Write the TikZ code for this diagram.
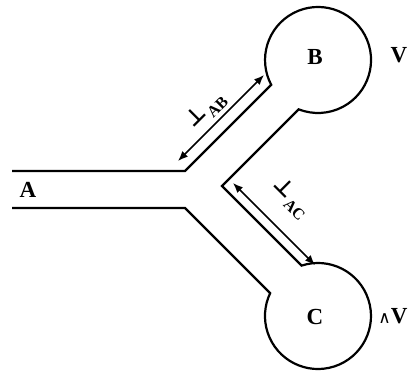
\documentclass[tikz,border=0pt]{standalone}
\usepackage{fontspec}
\setmainfont{Liberation Serif}
\newfontfamily\symfont{DejaVu Sans}
\usetikzlibrary{arrows.meta}
\begin{document}
\begin{tikzpicture}[x=1pt,y=1pt,
  wall/.style={line width=2.2pt, line join=miter},
  dim/.style={line width=1.6pt, {Latex[length=10pt,width=8pt]}-{Latex[length=10pt,width=8pt]}},
  lbl/.style={font=\fontsize{23}{26}\selectfont\bfseries, inner sep=0pt},
  sym/.style={font=\fontsize{22}{26}\selectfont, inner sep=0pt}]
\useasboundingbox (0,0) rectangle (414,371);
\draw[wall] (12,200) -- (185,200) -- (271.2,286.2)
  arc[start angle=207.9, end angle=-111.4, radius=53] -- (222,185) -- (301.6,105.4)
  arc[start angle=108, end angle=-205.5, radius=53] -- (185,163) -- (12,163);
\coordinate (ab1) at (178,210);
\coordinate (ab2) at (264,296);
\coordinate (ac1) at (233,188);
\coordinate (ac2) at (315,106);
\draw[dim] (ab1) -- (ab2);
\draw[dim] (ac1) -- (ac2);
\node[sym, rotate=45] (lab) at (206,261) {{\symfont\bfseries ⊥}\kern1pt\raisebox{-0.3em}{\fontsize{16}{16}\selectfont\bfseries AB}};
\node[sym, rotate=-45] (lac) at (291,173) {{\symfont\bfseries ⊥}\kern1pt\raisebox{-0.3em}{\fontsize{16}{16}\selectfont\bfseries AC}};
\node[lbl] (A) at (28,181) {A};
\node[lbl] (B) at (315,314) {B};
\node[lbl] (C) at (315,54) {C};
\node[lbl] (V) at (399,316) {V};
\node[lbl] (dV) at (393,55) {{\symfont\mdseries\fontsize{17}{17}\selectfont ∧}V};
\end{tikzpicture}
\end{document}
